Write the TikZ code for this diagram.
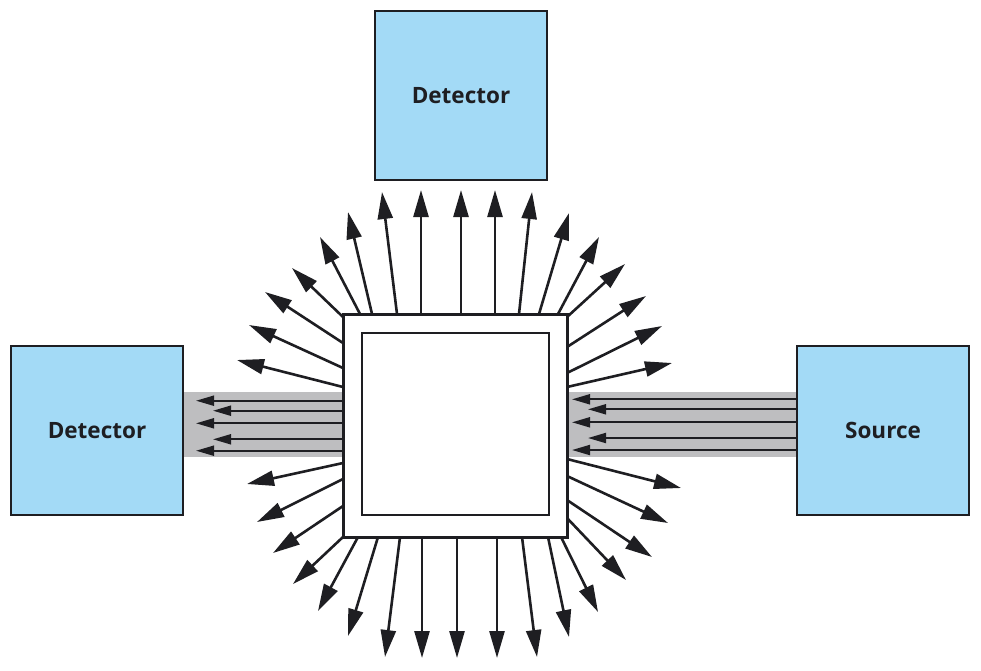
\documentclass[tikz,border=0pt]{standalone}
\usepackage{fontspec}
\setmainfont{Open Sans}
\usetikzlibrary{arrows.meta}
\definecolor{boxblue}{HTML}{A3DAF6}
\definecolor{beamgray}{HTML}{BEBEC0}
\definecolor{ink}{HTML}{1E1E22}
\tikzset{
  unitbox/.style={draw=ink, line width=2pt, fill=boxblue, minimum width=172pt, minimum height=169pt, inner sep=0pt, font=\fontsize{22.5}{26}\selectfont\bfseries, text=ink},
  ray/.style={draw=ink, line width=2.6pt, -{Triangle[length=27pt,width=15pt]}},
  beamray/.style={draw=ink, line width=2pt, -{Triangle[length=18pt,width=10pt]}},
}
\begin{document}
\begin{tikzpicture}[x=1pt,y=-1pt]
\useasboundingbox (0,0) rectangle (981,670);
% beams
\fill[beamgray] (183,392) rectangle (343,457);
\fill[beamgray] (567,392) rectangle (797,457);
% boxes
\node[unitbox] (topdet) at (461,95.5) {Detector};
\node[unitbox] (leftdet) at (97,430.5) {Detector};
\node[unitbox] (src) at (883,430.5) {Source};
% radial rays
\foreach \sx/\sy/\tx/\ty [count=\i] in {
  343/387/237/360, 343/368/249/325, 343/343/265/292, 343/317/292/268,
  360/314/320/237, 372/314/348/212, 397/314/382/192, 421/314/421/190,
  461/314/461/190, 495/314/495/190, 519/314/532/192, 539/314/569/213,
  558/314/599/237, 567/317/625/264, 567/347/646/296, 567/373/662/326,
  567/387/672/363,
  343/463/247/484, 343/479/257/522, 343/506/273/553, 343/537/293/584,
  358/537/318/611, 378/537/348/636, 400/537/385/657, 422/537/422/658,
  457/537/457/658, 497/537/497/658, 522/537/537/657, 548/537/569/637,
  561/537/598/612, 567/518/626/580, 567/500/652/557, 567/476/668/523,
  567/459/681/488}
{
  \coordinate (rs\i) at (\sx,\sy);
  \coordinate (rt\i) at (\tx,\ty);
  \draw[ray] (rs\i) -- (rt\i);
}
% beam rays left (from sample to left detector)
\foreach \y/\tx [count=\i] in {400.7/196, 410.7/213, 423.3/196, 439.3/213, 450.7/196}
{
  \coordinate (ls\i) at (343,\y);
  \coordinate (lt\i) at (\tx,\y);
  \draw[beamray] (ls\i) -- (lt\i);
}
% beam rays right (from source to sample)
\foreach \y/\tx [count=\i] in {399.3/572, 409.3/588, 422.3/572, 438/588, 450/572}
{
  \coordinate (bs\i) at (797,\y);
  \coordinate (bt\i) at (\tx,\y);
  \draw[beamray] (bs\i) -- (bt\i);
}
% sample squares
\node[draw=ink, line width=3pt, fill=white, minimum width=224pt, minimum height=223pt, inner sep=0pt] (outer) at (455,425.5) {};
\node[draw=ink, line width=2.5pt, fill=white, minimum width=187pt, minimum height=182pt, inner sep=0pt] (inner) at (455.5,424) {};
\end{tikzpicture}
\end{document}
